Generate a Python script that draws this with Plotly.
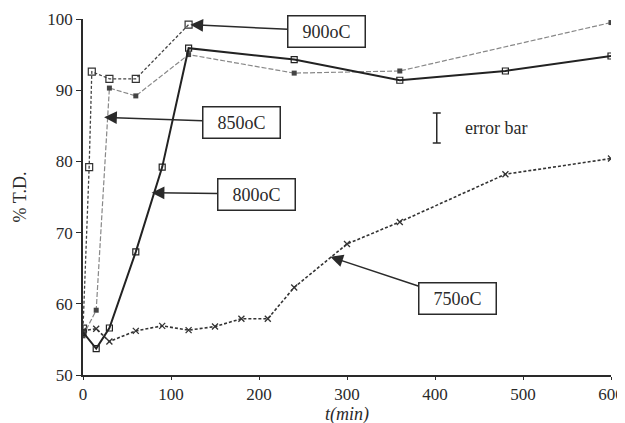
import plotly.graph_objects as go

t900 = [0, 7, 10, 30, 60, 120]
y900 = [56.5, 79.2, 92.6, 91.6, 91.6, 99.2]

t850 = [0, 15, 30, 60, 120, 240, 360, 600]
y850 = [55.5, 59.1, 90.3, 89.2, 95.0, 92.4, 92.7, 99.5]

t800 = [0, 15, 30, 60, 90, 120, 240, 360, 480, 600]
y800 = [56.0, 53.7, 56.6, 67.3, 79.2, 95.9, 94.3, 91.4, 92.7, 94.8]

t750 = [0, 15, 30, 60, 90, 120, 150, 180, 210, 240, 300, 360, 480, 600]
y750 = [56.2, 56.5, 54.7, 56.2, 56.9, 56.3, 56.8, 57.9, 57.9, 62.3, 68.4, 71.5, 78.2, 80.4]

x_ticks = [0, 100, 200, 300, 400, 500, 600]
y_ticks = [50, 60, 70, 80, 90, 100]

ink = "#2a2a2a"
serif = "Liberation Serif"

fig = go.Figure()
fig.add_trace(go.Scatter(x=t900, y=y900, mode="lines+markers",
                         line=dict(color="#444", width=1.3, dash="3px,2px"),
                         marker=dict(symbol="square-open", size=7, color="#333", line=dict(width=1.2))))
fig.add_trace(go.Scatter(x=t850, y=y850, mode="lines+markers",
                         line=dict(color="#888", width=1.2, dash="5px,2px"),
                         marker=dict(symbol="square", size=5, color="#444")))
fig.add_trace(go.Scatter(x=t800, y=y800, mode="lines+markers",
                         line=dict(color="#222", width=2),
                         marker=dict(symbol="square-open", size=6, color="#222", line=dict(width=1.2))))
fig.add_trace(go.Scatter(x=t750, y=y750, mode="lines+markers",
                         line=dict(color="#333", width=1.6, dash="3px,2px"),
                         marker=dict(symbol="x-thin-open", size=6, color="#333", line=dict(width=1.3))))
# error bar legend
fig.add_trace(go.Scatter(x=[402], y=[84.7], mode="markers",
                         marker=dict(size=0.1, color="rgba(0,0,0,0)"),
                         error_y=dict(type="constant", value=2.1, width=4, thickness=1.5, color=ink)))

def label(text, tip_x, tip_y, box_x, box_y):
    fig.add_annotation(x=tip_x, y=tip_y, ax=box_x, ay=box_y, axref="x", ayref="y",
                       xref="x", yref="y", text=text, showarrow=True,
                       arrowhead=2, arrowsize=1.7, arrowwidth=1.5, arrowcolor=ink,
                       font=dict(family=serif, size=18, color=ink),
                       width=68, height=22,
                       bordercolor=ink, borderwidth=1.5, borderpad=4, bgcolor="white")

label("900oC", 122, 99.2, 277, 98.3)
label("850oC", 24, 86.2, 180, 85.5)
label("800oC", 78, 75.6, 197, 75.4)
label("750oC", 281, 66.6, 425, 60.7)

fig.add_annotation(x=432, y=84.7, xref="x", yref="y", text="error bar", showarrow=False,
                   xanchor="left", font=dict(family=serif, size=18, color=ink))

# page body adds 8px offset; margins compensate so plot area sits at x 83-611, y 19-375
fig.update_layout(
    width=625, height=423, showlegend=False,
    paper_bgcolor="white", plot_bgcolor="white",
    margin=dict(l=75, r=22, t=11, b=56),
    font=dict(family=serif, size=16, color=ink),
)
fig.update_xaxes(range=[0, 600], tickvals=x_ticks, showgrid=False, zeroline=False, automargin=False,
                 showline=True, linecolor=ink, linewidth=1.5, ticks="outside", ticklen=3,
                 tickcolor=ink, tickfont=dict(family=serif, size=17),
                 title=dict(text="<i>t(min)</i>", font=dict(family=serif, size=18), standoff=0))
fig.update_yaxes(range=[50, 100], tickvals=y_ticks, showgrid=False, zeroline=False, automargin=False,
                 showline=True, linecolor=ink, linewidth=1.5, ticks="outside", ticklen=5,
                 tickcolor=ink, tickfont=dict(family=serif, size=17),
                 title=dict(text="% T.D.", font=dict(family=serif, size=18), standoff=16))

fig.write_html("out.html")
